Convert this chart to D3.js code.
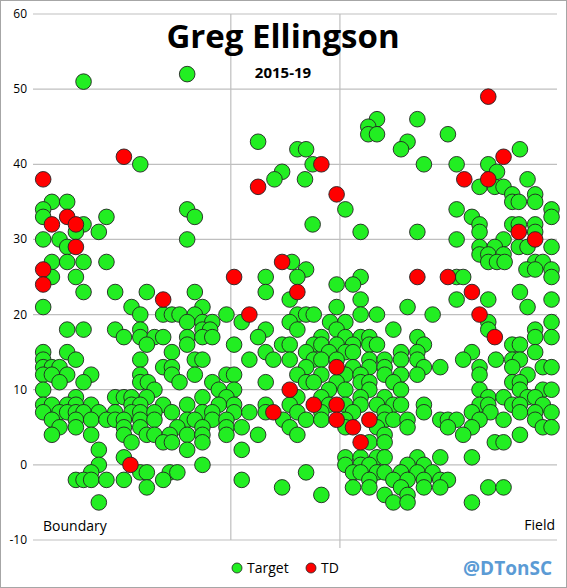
<!DOCTYPE html>
<html>
<head>
<meta charset="utf-8">
<script src="https://d3js.org/d3.v7.min.js"></script>
<style>
  body { margin: 0; background: #fff; }
  text { font-family: "Open Sans", "Liberation Sans", sans-serif; }
</style>
</head>
<body>
<svg id="chart" width="567" height="588"></svg>
<script>
// yards downfield (y) -> lateral positions (x, yards from the far hash)
var targetRows = [
  [52, [-14]],
  [51, [-23.5]],
  [46, [3.4, 7.1]],
  [45, [2.6]],
  [44, [2.6, 3.4, 9.9]],
  [43, [-7.5, 6.2]],
  [42, [-3.9, -3.1, 5.6, 16.5]],
  [40, [-18.3, -2.5, 7.7, 10.7, 13.6]],
  [39, [-5.3, 14.4]],
  [38, [-6, -3.2, 17.2]],
  [37, [12.8, 14.2, 15]],
  [36, [15.8, 17.9]],
  [35, [-26.4, -25, 15.8, 16.4, 17.9]],
  [34, [-27.2, -14, 0.5, 10.7, 19.4]],
  [33, [-27.2, -21.4, -13.3, 12.1, 19.4]],
  [32, [-23.5, -2.5, 12.8, 15.8, 16.4, 17.9]],
  [31, [-24.2, -22.1, 1.9, 7.1, 12.8, 17.9]],
  [30, [-27.2, -25.7, -14, 10.7, 15]],
  [29, [-25, 12.8, 14.2, 16.4, 17.2, 19.4]],
  [28, [12.8, 13.6, 15]],
  [27, [-26.4, -25, -23.5, -21.4, -4.4, 13.6, 14.4, 15.1, 17.9, 18.6]],
  [26, [-3.1, 17.1, 17.9, 19.4]],
  [25, [-26.4, -24.2, -6.8, -3.9, 1.9, 10.7, 11.3, 19.4]],
  [24, [-0.3, 1.2]],
  [23, [-23.5, -20.6, -17.7, -13.3, -6.8, 16.5]],
  [22, [-4.6, 1.9, 10.7, 13.6, 19.4]],
  [21, [-27.2, -19.1, -12.6, -0.3, 6.2, 17.2]],
  [20, [-18.3, -16.2, -15.4, -14.7, -13.3, -10.4, -3.9, -3.1, -2.4, 1.9, 3.4, 8.5]],
  [19, [-14, -12.6, -11.7, -9, -4.6, -0.9, 0.5, 13.6, 19.4]],
  [18, [-25, -23.5, -20.6, -18.3, -12.6, -11.9, -6.8, -3.9, -0.3, 4.9, 13.6, 17.9]],
  [17, [-19.8, -18.3, -17, -16.2, -14, -12.6, -11.7, -7.5, -1.7, 0.5, 1.9, 2.7, 7.1, 17.9, 19.4]],
  [16, [-17.7, -14, -9.7, -5.3, -4.6, -2.4, -1.7, -0.3, 1.2, 2.7, 3.4, 7.7, 15.8, 16.5]],
  [15, [-27.2, -25, -15.4, -6.8, -3.1, -1, 0.5, 1.2, 5.6, 7.1, 12.1, 17.9]],
  [14, [-27.2, -24.2, -18.3, -13.3, -12.6, -8.3, -6.1, -4.6, -2.4, -1.7, -0.3, 2.7, 4.1, 5.6, 7.1, 11.3, 14.3, 15.8, 16.5]],
  [13, [-27.2, -26.4, -25.7, -16.2, -15.4, -3.1, 1.2, 2.7, 4.1, 7.7, 9.2, 12.8, 15.8, 18.6, 19.4]],
  [12, [-27.2, -26.4, -25, -22.8, -18.3, -15.4, -13.3, -10.4, -9.7, -3.9, -1.7, 0.5, 1.9, 4.1, 5.6, 7.1, 12.8, 17.2]],
  [11, [-25.7, -23.5, -18.3, -17.6, -14.7, -11.7, -6.8, -3.1, -2.4, -0.3, 1.9, 2.7, 4.9, 15.8, 16.5]],
  [10, [-27.2, -17, -11.1, -9.7, -1, 0.5, 2.7, 5.6, 12.8, 16.5, 18.6, 19.4]],
  [9, [-24.2, -20.6, -19.8, -19.1, -17.7, -12.6, -10.4, -3.9, -1.7, 1.9, 4.1, 13.6, 15, 17.2, 17.9]],
  [8, [-27.2, -26.4, -25, -24.2, -22.8, -19.1, -18.3, -16.2, -14, -11.1, -9.7, -6.8, -4.6, -1, 0.5, 1.9, 3.4, 4.9, 5.6, 7.7, 12.8, 13.6, 15.8, 16.5, 18.6]],
  [7, [-27.2, -25.7, -25, -24.2, -23.5, -22.1, -20.6, -19.1, -18.3, -17, -15.4, -12.6, -11.7, -9.7, -8.3, -6.8, -3.9, -1.7, 1.2, 4.1, 7.7, 12.1, 13.8, 16.5, 17.9, 19.4]],
  [6, [-26.4, -24.2, -22.8, -21.4, -20.6, -19.8, -18.3, -17, -14, -13.3, -11.7, -10.4, -5.2, -3.1, -1.7, 0.5, 4.1, 4.9, 6.2, 9.2, 9.9, 10.7, 12.8, 15, 17.9]],
  [5, [-25.7, -24.2, -19.8, -18.3, -14.9, -12.6, -10.4, -9, -4.6, 0.5, 3.4, 6.2, 9.9, 12.1, 18.6, 19.4]],
  [4, [-26.4, -22.8, -19.8, -17.7, -17, -15.6, -14, -12.6, -10.4, -7.5, -3.9, 4.1, 11.3, 16.5]],
  [3, [-19.1, -16.2, -15.4, -12.6, 2.7, 4.1, 14.2, 15]],
  [2, [-22.1, -14, -9]],
  [1, [-19.8, 0.5, 1.9, 3.4, 4.1, 7.1, 9.2, 12.1]],
  [0, [-22.1, -12.6, 0.5, 1.9, 2.7, 6.2, 7.7]],
  [-1, [-22.8, -18.3, -17.7, -15.6, -14.9, -3.1, 1.2, 1.9, 3.4, 4.1, 5.6, 7.1, 8.5]],
  [-2, [-24.2, -23.5, -22.8, -21.4, -19.8, -16.2, -9, 2.7, 4.9, 6.2, 7.7, 9.2, 9.9]],
  [-3, [-17.7, -5.3, 1.2, 2.7, 5.6, 7.7, 9.2, 13.6, 15]],
  [-4, [-1.7, 4.1, 6.2]],
  [-5, [-22.1, 4.9, 6.2, 12.1]]
];

var tdPoints = [
  [-27.2, 38], [-27.2, 26], [-27.2, 24], [-26.4, 32], [-25, 33], [-24.2, 32],
  [-24.2, 29], [-19.8, 41], [-19.2, 0], [-16.2, 22], [-7.5, 37], [-5.3, 27],
  [-9.7, 25], [-3.9, 23], [-8.3, 20], [-4.6, 10], [-6.1, 7], [13.6, 49],
  [15, 41], [11.4, 38], [13.6, 38], [-1.7, 40], [-0.3, 36], [16.4, 31],
  [17.9, 30], [7.1, 25], [9.9, 25], [12.1, 23], [12.8, 20], [14.2, 17],
  [-0.3, 13], [-2.4, 8], [-0.3, 8], [-0.3, 6], [2.7, 6], [1.2, 5], [1.9, 3]
];

var yTicks = [-10, 0, 10, 20, 30, 40, 50, 60];
var xGrid = [-10, 0];

var targets = [];
targetRows.forEach(function(r){
  r[1].forEach(function(x){ targets.push([x, r[0]]); });
});

var svg = d3.select("#chart");
var x = d3.scaleLinear().domain([-27.4, 19.9]).range([41, 557]);
var y = d3.scaleLinear().domain([-10, 60]).range([540, 14]);

svg.append("rect").attr("x", 0.5).attr("y", 0.5).attr("width", 566).attr("height", 587)
  .attr("fill", "#fff").attr("stroke", "#a6a6a6");

svg.selectAll(".hgrid").data(yTicks).enter().append("line")
  .attr("x1", 33).attr("x2", 557)
  .attr("y1", (d) => y(d)).attr("y2", (d) => y(d))
  .attr("stroke", "#bfbfbf").attr("stroke-width", 1.2);

svg.selectAll(".vgrid").data(xGrid).enter().append("line")
  .attr("x1", (d) => x(d)).attr("x2", (d) => x(d))
  .attr("y1", y(60)).attr("y2", (d) => d == 0 ? y(-10) + 8 : y(-10))
  .attr("stroke", "#bfbfbf").attr("stroke-width", 1.2);

svg.selectAll(".ylab").data(yTicks).enter().append("text")
  .attr("x", 27).attr("y", (d) => y(d) + 4)
  .attr("text-anchor", "end").attr("font-size", 12).attr("fill", "#000")
  .text((d) => d);

svg.append("text").attr("x", 283).attr("y", 48).attr("text-anchor", "middle")
  .attr("font-size", 33).attr("font-weight", "bold").text("Greg Ellingson");
svg.append("text").attr("x", 283).attr("y", 78).attr("text-anchor", "middle")
  .attr("font-size", 15).attr("font-weight", "bold").text("2015-19");

svg.append("g").selectAll("circle").data(targets).enter().append("circle")
  .attr("cx", (d) => x(d[0])).attr("cy", (d) => y(d[1])).attr("r", 7.8)
  .attr("fill", "#22ee22").attr("stroke", "#222").attr("stroke-width", 0.9);

svg.append("g").selectAll("circle").data(tdPoints).enter().append("circle")
  .attr("cx", (d) => x(d[0])).attr("cy", (d) => y(d[1])).attr("r", 7.8)
  .attr("fill", "#ff0000").attr("stroke", "#222").attr("stroke-width", 0.9);

svg.append("text").attr("x", 43).attr("y", 531).attr("font-size", 14).text("Boundary");
svg.append("text").attr("x", 555).attr("y", 530).attr("text-anchor", "end")
  .attr("font-size", 14).text("Field");

// legend
var legend = [["Target", "#22ee22", 237], ["TD", "#ff0000", 311]];
legend.forEach(function(l){
  svg.append("circle").attr("cx", l[2]).attr("cy", 568).attr("r", 5)
    .attr("fill", l[1]).attr("stroke", "#222").attr("stroke-width", 0.8);
  svg.append("text").attr("x", l[2] + 10).attr("y", 573).attr("font-size", 14).text(l[0]);
});

svg.append("text").attr("x", 552).attr("y", 575).attr("text-anchor", "end")
  .attr("font-size", 19).attr("font-weight", "bold").attr("fill", "#5b9bd5").text("@DTonSC");
</script>
</body>
</html>
